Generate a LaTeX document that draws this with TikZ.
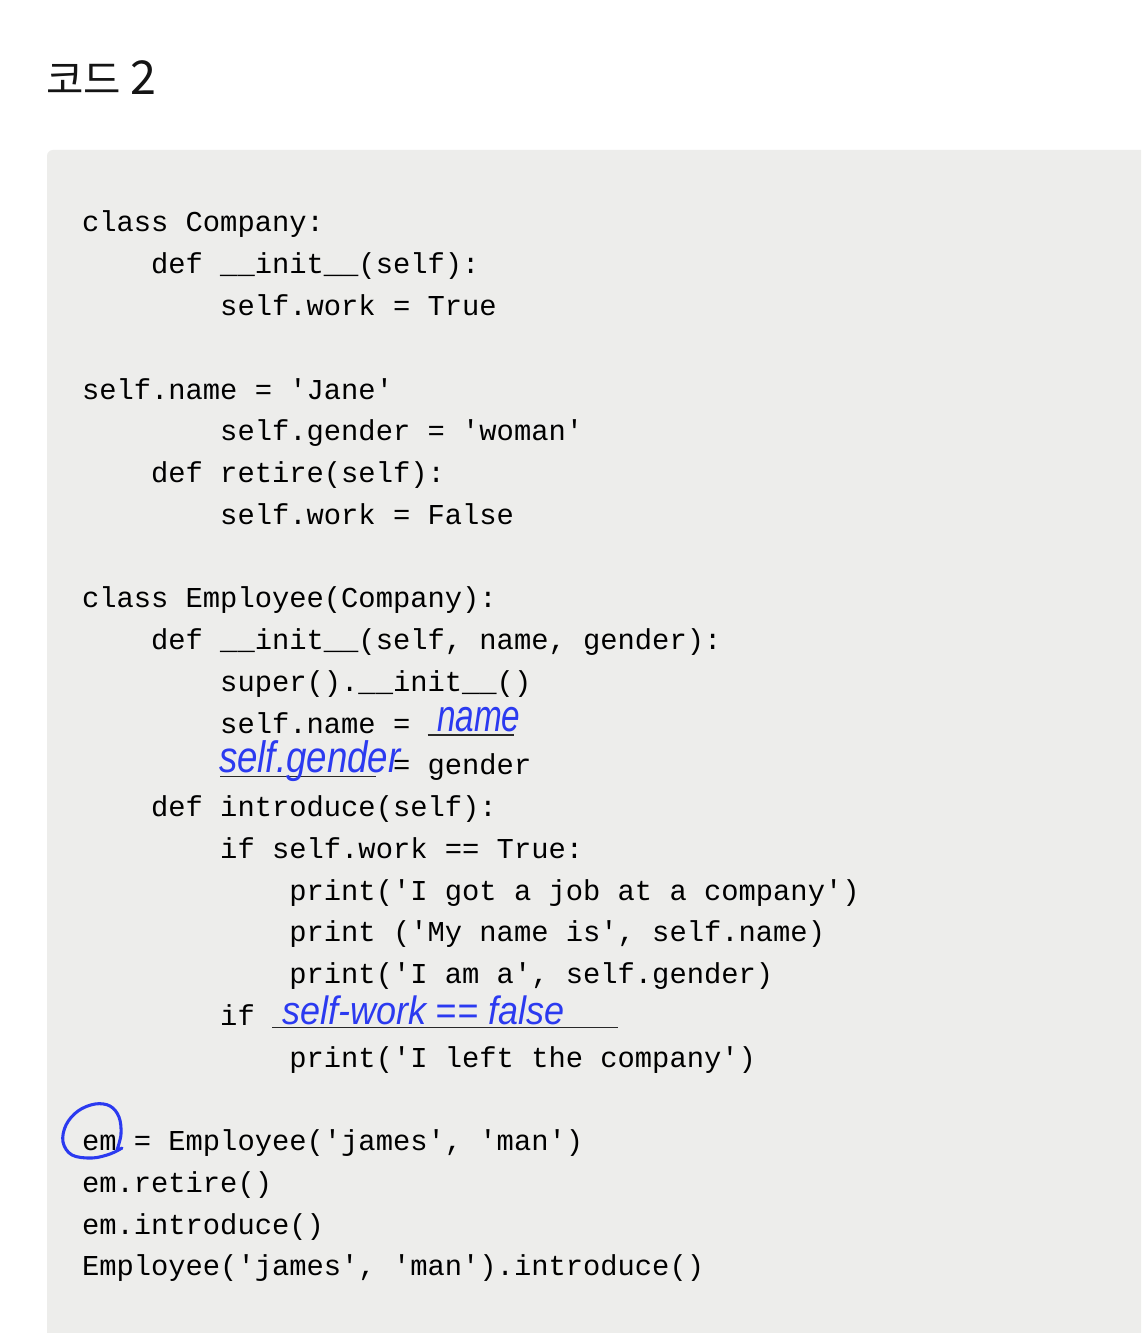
\documentclass[tikz,border=0pt]{standalone}
\usepackage{fontspec}
\setmonofont{Liberation Mono}
\newfontfamily\handfont{Liberation Sans}
\newfontfamily\krfont{Noto Sans CJK KR}
\definecolor{codebg}{RGB}{237,237,235}
\definecolor{handblue}{RGB}{43,58,240}
\definecolor{blankline}{RGB}{40,40,40}
\tikzset{
  code/.style={anchor=base west, inner sep=0pt, outer sep=0pt, font=\ttfamily\fontsize{21.6pt}{26pt}\selectfont, text=black},
  hand/.style={anchor=base west, inner sep=0pt, outer sep=0pt, text=handblue},
  blank/.style={draw=blankline, line width=1.1pt},
  loop/.style={draw=handblue, line width=2.3pt, line cap=round, line join=round}
}
\begin{document}
\begin{tikzpicture}[x=0.75pt,y=-0.75pt]
\clip (0,0) rectangle (1141,1333);
\useasboundingbox (0,0) rectangle (1141,1333);
\fill[white] (0,0) rectangle (1141,1333);
% code panel
\fill[codebg, rounded corners=4.5pt] (47,150) rectangle (1200,1400);
% title
\node[anchor=base west, inner sep=0pt, font=\krfont\fontsize{30.5pt}{36pt}\selectfont, text={black!92}] (title) at (46,95) {코드\hspace{7pt}{\fontsize{35pt}{40pt}\selectfont 2}};
% code lines
\def\cx#1{82+17.28*#1}
\def\by#1{232+41.75*(#1-1)}
\node[code] (l1)  at ({\cx{0}},{\by{1}})  {class Company:};
\node[code] (l2)  at ({\cx{4}},{\by{2}})  {def \_\_init\_\_(self):};
\node[code] (l3)  at ({\cx{8}},{\by{3}})  {self.work = True};
\node[code] (l5)  at ({\cx{0}},{\by{5}})  {self.name = 'Jane'};
\node[code] (l6)  at ({\cx{8}},{\by{6}})  {self.gender = 'woman'};
\node[code] (l7)  at ({\cx{4}},{\by{7}})  {def retire(self):};
\node[code] (l8)  at ({\cx{8}},{\by{8}})  {self.work = False};
\node[code] (l10) at ({\cx{0}},{\by{10}}) {class Employee(Company):};
\node[code] (l11) at ({\cx{4}},{\by{11}}) {def \_\_init\_\_(self, name, gender):};
\node[code] (l12) at ({\cx{8}},{\by{12}}) {super().\_\_init\_\_()};
\node[code] (l13) at ({\cx{8}},{\by{13}}) {self.name =};
\node[code] (l14) at ({\cx{18}},{\by{14}}) {= gender};
\node[code] (l15) at ({\cx{4}},{\by{15}}) {def introduce(self):};
\node[code] (l16) at ({\cx{8}},{\by{16}}) {if self.work == True:};
\node[code] (l17) at ({\cx{12}},{\by{17}}) {print('I got a job at a company')};
\node[code] (l18) at ({\cx{12}},{\by{18}}) {print ('My name is', self.name)};
\node[code] (l19) at ({\cx{12}},{\by{19}}) {print('I am a', self.gender)};
\node[code] (l20) at ({\cx{8}},{\by{20}}) {if};
\node[code] (l21) at ({\cx{12}},{\by{21}}) {print('I left the company')};
\node[code] (l23) at ({\cx{0}},{\by{23}}) {em = Employee('james', 'man')};
\node[code] (l24) at ({\cx{0}},{\by{24}}) {em.retire()};
\node[code] (l25) at ({\cx{0}},{\by{25}}) {em.introduce()};
\node[code] (l26) at ({\cx{0}},{\by{26}}) {Employee('james', 'man').introduce()};
% blanks
\draw[blank] ({\cx{20}},{\by{13}+2}) -- ({\cx{25}},{\by{13}+2});
\draw[blank] ({\cx{8}},{\by{14}+2}) -- ({\cx{17}},{\by{14}+2});
\draw[blank] ({\cx{11}},{\by{20}+2}) -- ({\cx{31}},{\by{20}+2});
% handwritten answers
\node[hand, font=\handfont\itshape\fontsize{25pt}{30pt}\selectfont] (h1) at (437,731) {\scalebox{1}[1.35]{name}};
\node[hand, font=\handfont\itshape\fontsize{27.5pt}{32pt}\selectfont] (h2) at (219,772) {\scalebox{1}[1.2]{self.gender}};
\node[hand, font=\handfont\itshape\fontsize{27pt}{32pt}\selectfont] (h3) at (282,1024) {\scalebox{1}[1.1]{self-work == false}};
% circle around em
\draw[loop] plot[smooth, tension=0.6] coordinates {(117,1150) (121,1134) (119,1117) (110,1106) (95,1104) (78,1111) (66,1125) (63,1142) (72,1155) (92,1158) (110,1154) (122,1148)};
\end{tikzpicture}
\end{document}
